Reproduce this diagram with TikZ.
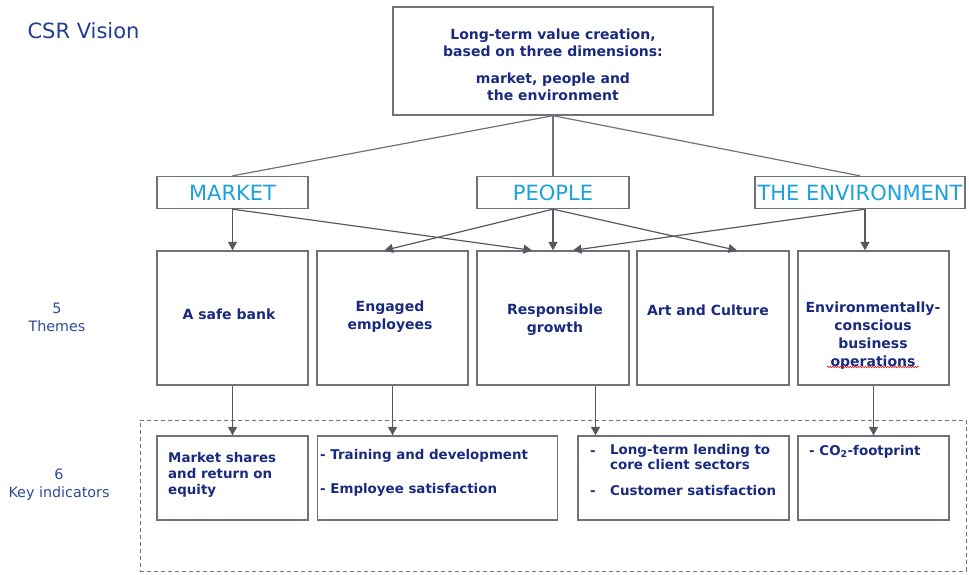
\documentclass[tikz,border=0pt]{standalone}
\usepackage{fontspec}
\setmainfont{DejaVu Sans}
\usetikzlibrary{arrows.meta,decorations.pathmorphing}

\definecolor{navy}{HTML}{1A2A7E}
\definecolor{titleblue}{HTML}{213E92}
\definecolor{capblue}{HTML}{2C4A9C}
\definecolor{dimcyan}{HTML}{1BA1DC}
\definecolor{framegray}{HTML}{6E7279}
\definecolor{arrowgray}{HTML}{555A61}

\tikzset{
  box/.style={draw=framegray,line width=1.3pt,inner sep=0pt},
  caption/.style={align=center,text=capblue,font=\fontsize{14.3}{18}\selectfont},
  boldtxt/.style={text=navy,inner sep=0pt,font=\fontsize{14}{18}\selectfont\bfseries},
  kpitxt/.style={text=navy,inner sep=0pt,font=\fontsize{13.4}{16}\selectfont\bfseries},
}

\begin{document}
\begin{tikzpicture}[x=1pt,y=-1pt]
\useasboundingbox (0,0) rectangle (969,574);

\node[anchor=west,text=titleblue,font=\fontsize{21}{25}\selectfont] (title) at (24,31) {CSR Vision};
\node[caption] (themes) at (57,317) {5\\Themes};
\node[caption] (kpis) at (59,485) {6\\Key indicators};

% dashed frame round the indicators
\node[draw=framegray,line width=0.9pt,dash pattern=on 4pt off 3pt,minimum width=826pt,minimum height=151pt] (frame) at (553,495.5) {};

\begin{scope}[every node/.style={box}]
  \node[minimum width=320pt,minimum height=108pt] (top) at (553,61) {};

  \begin{scope}[minimum height=32pt,text=dimcyan,font=\fontsize{21}{25}\selectfont]
    \node[minimum width=151pt] (market) at (232.5,192.5) {MARKET};
    \node[minimum width=152pt] (people) at (553,192.5) {PEOPLE};
    \node[minimum width=210pt] (env)    at (860,192.5) {THE ENVIRONMENT};
  \end{scope}

  \begin{scope}[minimum height=134pt]
    \node[minimum width=151pt] (t1) at (232.5,318) {};
    \node[minimum width=151pt] (t2) at (392.5,318) {};
    \node[minimum width=152pt] (t3) at (553,318) {};
    \node[minimum width=152pt] (t4) at (713,318) {};
    \node[minimum width=151pt] (t5) at (873.5,318) {};
  \end{scope}

  \begin{scope}[minimum height=84pt]
    \node[minimum width=151pt] (k1) at (232.5,478) {};
    \node[minimum width=240pt] (k2) at (437.5,478) {};
    \node[minimum width=211pt] (k3) at (683.5,478) {};
    \node[minimum width=151pt] (k4) at (873.5,478) {};
  \end{scope}
\end{scope}

% vision statement and theme names
\begin{scope}[every node/.style={boldtxt,align=center}]
  \node[font=\fontsize{14}{17}\selectfont\bfseries] (toptxt) at (553,65)
    {Long-term value creation,\\based on three dimensions:\\[10pt]market, people and\\the environment};
  \node (t1txt) at (229,314) {A safe bank};
  \node (t2txt) at (390,317) {Engaged\\employees};
  \node (t3txt) at (555,320) {Responsible\\growth};
  \node (t4txt) at (708,310) {Art and Culture};
  \node (t5txt) at (873,336) {Environmentally-\\conscious\\business\\operations};
\end{scope}
\draw[red!85!black,line width=0.5pt,decorate,decoration={snake,amplitude=0.7pt,segment length=2.5pt}]
  ([xshift=-46pt,yshift=3pt]t5txt.south) -- ([xshift=46pt,yshift=3pt]t5txt.south);

% indicators
\begin{scope}[every node/.style={kpitxt,anchor=base west,align=left}]
  \node[anchor=north west] (k1a) at (168,452) {Market shares\\and return on\\equity};
  \node (k2a) at (320,459) {- Training and development};
  \node (k2b) at (320,493) {- Employee satisfaction};
  \node (k3d1) at (590,455) {-};
  \node[anchor=north west,font=\fontsize{13.4}{15}\selectfont\bfseries] (k3a) at (610,444) {Long-term lending to\\core client sectors};
  \node (k3d2) at (590,495) {-};
  \node (k3b) at (610,495) {Customer satisfaction};
  \node (k4a) at (809,455) {- CO\textsubscript{2}-footprint};
\end{scope}

% top box to the three dimensions
\begin{scope}[every edge/.style={draw=framegray,line width=1.2pt}]
  \path (top.south) edge (market.north);
  \path (top.south) edge (people.north);
  \path (top.south) edge (env.north);
\end{scope}

\begin{scope}[every edge/.style={draw=arrowgray,line width=1.2pt,-{Triangle[length=8.5pt,width=9pt]}}]
  \path (market.south) edge (t1.north);
  \path (market.south) edge ([xshift=-21pt]t3.north);
  \path (people.south) edge ([xshift=-8pt]t2.north);
  \path (people.south) edge (t3.north);
  \path (people.south) edge ([xshift=24pt]t4.north);
  \path ([xshift=5pt]env.south) edge ([xshift=-8.5pt]t5.north);
  \path ([xshift=5pt]env.south) edge ([xshift=20pt]t3.north);

  \path (t1.south) edge (k1.north);
  \path (t2.south) edge (t2.south |- k2.north);
  \path ([xshift=42.5pt]t3.south) edge ([xshift=42.5pt]t3.south |- k3.north);
  \path (t5.south) edge (k4.north);
\end{scope}

\end{tikzpicture}
\end{document}
